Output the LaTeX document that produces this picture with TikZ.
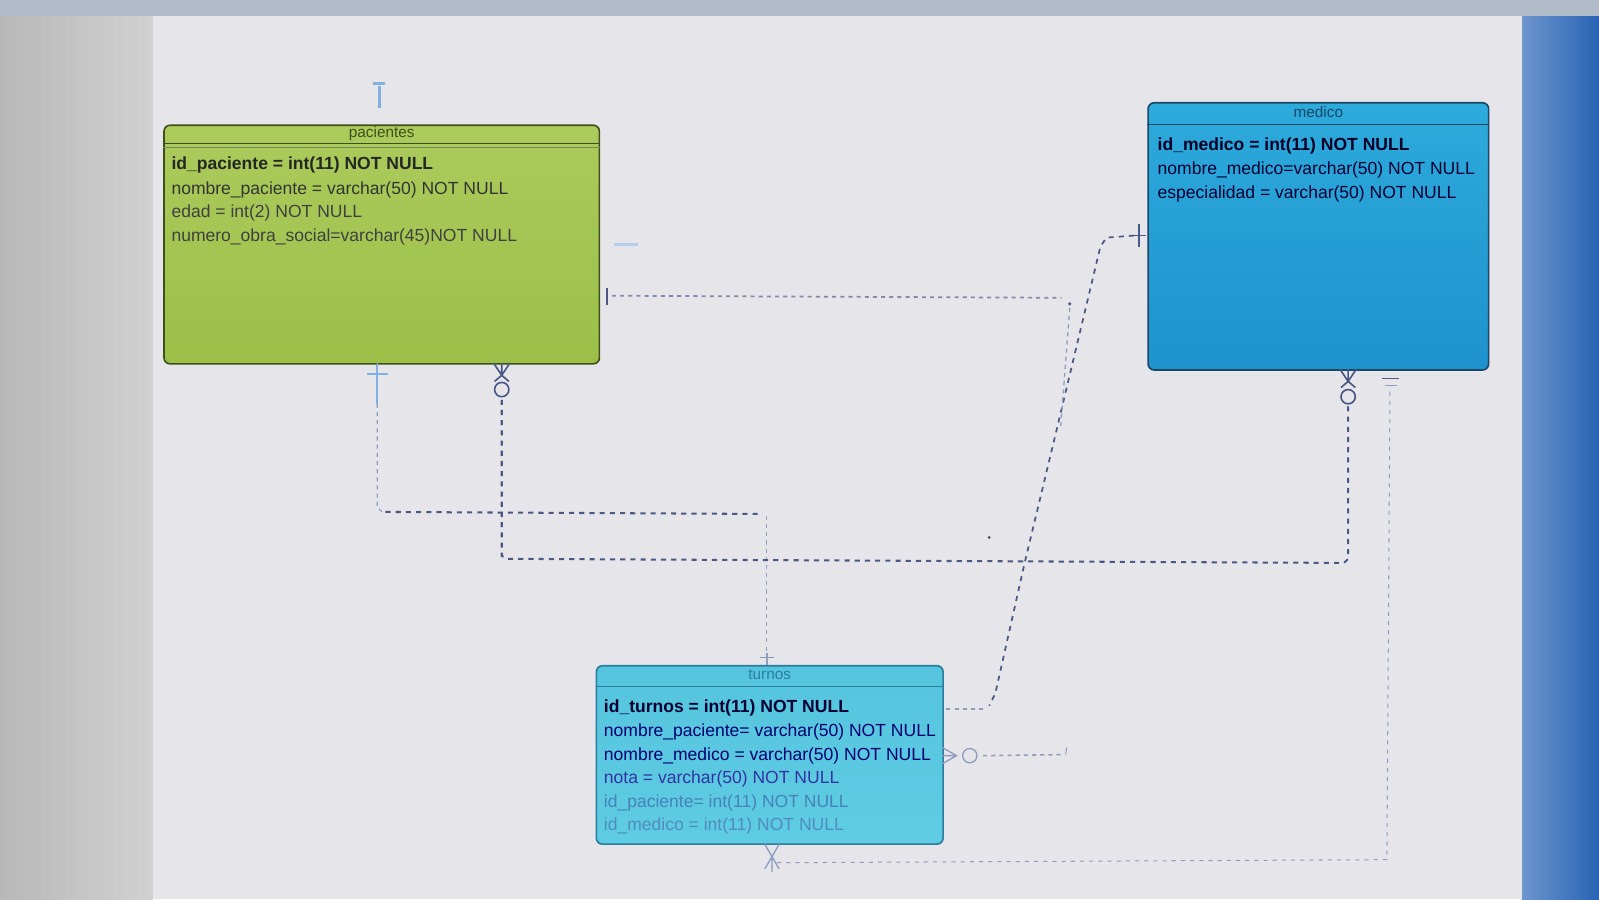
\documentclass[tikz,border=0pt]{standalone}
\usepackage{fontspec}
\setmainfont{Liberation Sans}
\usetikzlibrary{calc}
\definecolor{pacfillT}{HTML}{ABCB5C}
\definecolor{pacfillB}{HTML}{9CBF48}
\definecolor{pacdark}{HTML}{3F4F1C}
\definecolor{medfillT}{HTML}{2DAADC}
\definecolor{medfillB}{HTML}{1E92CC}
\definecolor{meddark}{HTML}{1B4766}
\definecolor{turfillT}{HTML}{55C4DE}
\definecolor{turfillB}{HTML}{5ECCE2}
\definecolor{turdark}{HTML}{2B7C9E}
\definecolor{lnk}{HTML}{4A5886}
\definecolor{lnkfaint}{HTML}{8E9CC0}
\definecolor{canvasc}{HTML}{E6E6EA}
\definecolor{bezel}{HTML}{C3C5CA}
\definecolor{markblue}{HTML}{7FB0DE}
\definecolor{topstrip}{RGB}{176,186,200}
\definecolor{blueL}{RGB}{110,150,205}
\definecolor{blueR}{RGB}{40,100,180}
\definecolor{turfadeA}{RGB}{70,130,185}
\definecolor{turfadeB}{RGB}{80,140,190}
\begin{document}
\begin{tikzpicture}[x=1pt,y=-1pt,
  tbl/.style={line width=1.6pt, rounded corners=6pt, inner sep=0pt, anchor=north west},
  hdr/.style={font=\fontsize{15}{16}\selectfont, inner sep=0pt},
  row/.style={font=\fontsize{17.2}{19}\selectfont, inner sep=0pt, anchor=west},
  conn/.style={draw=lnk, line width=2pt, dash pattern=on 5pt off 5pt},
  faint/.style={draw=lnkfaint, line width=1.2pt, dash pattern=on 4pt off 4pt},
  endmark/.style={draw=lnk, line width=1.6pt},
  fendmark/.style={draw=lnkfaint, line width=1.3pt}]

% background: photo of the screen
\useasboundingbox (0,0) rectangle (1568,882);
\fill[bezel] (0,0) rectangle (1568,882);
\shade[left color=black!28, right color=black!18] (0,0) rectangle (150,882);
\shade[left color=blueL, right color=blueR] (1492,0) rectangle (1568,882);
\fill[topstrip] (0,0) rectangle (1568,16);
\fill[canvasc] (150,16) rectangle (1492,882);

% tables
\node[tbl, top color=pacfillT, bottom color=pacfillB, draw=pacdark, minimum width=427pt, minimum height=234pt] (pac) at (160,122) {};
\draw[pacdark, line width=1.4pt] ([yshift=-19pt]pac.north west) -- ([yshift=-19pt]pac.north east);
\draw[pacdark!70, line width=1pt] ([yshift=-23pt]pac.north west) -- ([yshift=-23pt]pac.north east);
\node[hdr, text=pacdark] (pact) at ([yshift=-9pt]pac.north) {pacientes};
\node[row, text=black!85] (pac1) at ([xshift=8pt,yshift=-40pt]pac.north west) {\bfseries id\_paciente = int(11) NOT NULL};
\node[row, text=black!80] (pac2) at ([xshift=8pt,yshift=-64pt]pac.north west) {nombre\_paciente = varchar(50) NOT NULL};
\node[row, text=black!75] (pac3) at ([xshift=8pt,yshift=-87pt]pac.north west) {edad = int(2) NOT NULL};
\node[row, text=black!75] (pac4) at ([xshift=8pt,yshift=-110pt]pac.north west) {numero\_obra\_social=varchar(45)NOT NULL};

\node[tbl, top color=medfillT, bottom color=medfillB, draw=meddark, minimum width=334pt, minimum height=262pt] (med) at (1125,100) {};
\draw[meddark, line width=1.4pt] ([yshift=-22pt]med.north west) -- ([yshift=-22pt]med.north east);
\node[hdr, text=meddark] (medt) at ([yshift=-10pt]med.north) {medico};
\node[row, text=black!85!blue] (med1) at ([xshift=10pt,yshift=-43pt]med.north west) {\bfseries id\_medico = int(11) NOT NULL};
\node[row, text=black!80!blue] (med2) at ([xshift=10pt,yshift=-67pt]med.north west) {nombre\_medico=varchar(50) NOT NULL};
\node[row, text=black!80!blue] (med3) at ([xshift=10pt,yshift=-90pt]med.north west) {especialidad = varchar(50) NOT NULL};

\node[tbl, top color=turfillT, bottom color=turfillB, draw=turdark, minimum width=340pt, minimum height=175pt] (tur) at (584,652) {};
\draw[turdark, line width=1.4pt] ([yshift=-21pt]tur.north west) -- ([yshift=-21pt]tur.north east);
\node[hdr, text=turdark] (turt) at ([yshift=-10pt]tur.north) {turnos};
\node[row, text=black!80!blue] (tur1) at ([xshift=8pt,yshift=-42pt]tur.north west) {\bfseries id\_turnos = int(11) NOT NULL};
\node[row, text=blue!45!black] (tur2) at ([xshift=8pt,yshift=-66pt]tur.north west) {nombre\_paciente= varchar(50) NOT NULL};
\node[row, text=blue!45!black] (tur3) at ([xshift=8pt,yshift=-89pt]tur.north west) {nombre\_medico = varchar(50) NOT NULL};
\node[row, text=blue!55!black!80] (tur4) at ([xshift=8pt,yshift=-112pt]tur.north west) {nota = varchar(50) NOT NULL};
\node[row, text=turfadeA] (tur5) at ([xshift=8pt,yshift=-135pt]tur.north west) {id\_paciente= int(11) NOT NULL};
\node[row, text=turfadeB] (tur6) at ([xshift=8pt,yshift=-158pt]tur.north west) {id\_medico = int(11) NOT NULL};

% connector coordinates
\coordinate (pA) at (370,356);
\coordinate (pB) at (492,356);
\coordinate (pC) at (587,291);
\coordinate (mA) at (1322,362);
\coordinate (mB) at (1363,362);
\coordinate (mC) at (1125,232);
\coordinate (tA) at (752,652);
\coordinate (tB) at (924,695);
\coordinate (tC) at (924,741);
\coordinate (tD) at (757,827);

% pacientes -> turnos (left)
\draw[faint] (pA) -- (370,498) -- (375,502);
\draw[conn] (378,502) -- (748,504);
\draw[faint] (752,506) -- (tA);
% pacientes <-> medico (bottom)
\draw[conn] (492,392) -- (492,545) -- (497,548) -- (1318,552) -- (1322,548) -- (1322,396);
% medico -> turnos (diagonal)
\draw[conn, line width=1.7pt] (1112,231) -- (1085,233) -- (1079,242) -- (1036,422) -- (1005,551) -- (976,680) -- (970,692);
\draw[faint, line width=1.6pt] (964,695) -- (tB);
% pacientes -> turnos (nombre)
\draw[faint, line width=1.7pt, draw=lnk!70] (600,290) -- (1041,292);
\draw[faint, line width=1.3pt] (1049,302) -- (1040,420);
\fill[lnk] (1049,298) circle (1.8pt);
\draw[faint, line width=1.5pt] (964,741) -- (1043,740);
\draw[fendmark, line width=1pt] (1045,740) -- (1046,733);
% medico -> turnos (bottom right)
\draw[fendmark, dash pattern=on 4pt off 5pt, line width=1pt] (mB) ++(0,22) -- (1360,843) -- (762,846) -- (757,850);

% end marks
\draw[markblue, line width=2pt] (370,358) -- (370,396);
\draw[markblue, line width=2pt] (360,367) -- (380,367);
\draw[endmark] (595,282) -- (595,299);
\draw[endmark] (1117,220) -- (1117,242);
\draw[endmark] (1108,231) -- (1124,231);
\draw[fendmark] (745,645) -- (759,645);
\draw[fendmark] (752,640) -- (752,652);
\draw[endmark] (1355,371) -- (1372,371);
\draw[fendmark] (1358,378) -- (1370,378);
% crow's feet with circle
\draw[endmark] (484,356) -- (492,368) -- (500,356) (492,356) -- (492,368) (485,374) -- (492,368) -- (499,374);
\draw[endmark] (492,382) circle (7pt);
\draw[endmark] (1314,362) -- (1322,374) -- (1330,362) (1322,362) -- (1322,374) (1315,380) -- (1322,374) -- (1329,380);
\draw[endmark] (1322,389) circle (7pt);
\draw[fendmark] (924,733) -- (938,741) -- (924,749) (924,741) -- (938,741);
\draw[fendmark] (951,741) circle (7pt);
\draw[fendmark] (750,828) -- (757,840) -- (764,828) (757,840) -- (757,855) (750,852) -- (757,840) -- (764,852);
% stray blue marks on screen
\draw[markblue, line width=3pt] (372,84) -- (372,106);
\draw[markblue, line width=2.5pt] (366,82) -- (378,82);
\draw[markblue!60, line width=2.5pt] (602,240) -- (626,240);
\fill[black!70] (970,527) circle (1.5pt);
\end{tikzpicture}
\end{document}
